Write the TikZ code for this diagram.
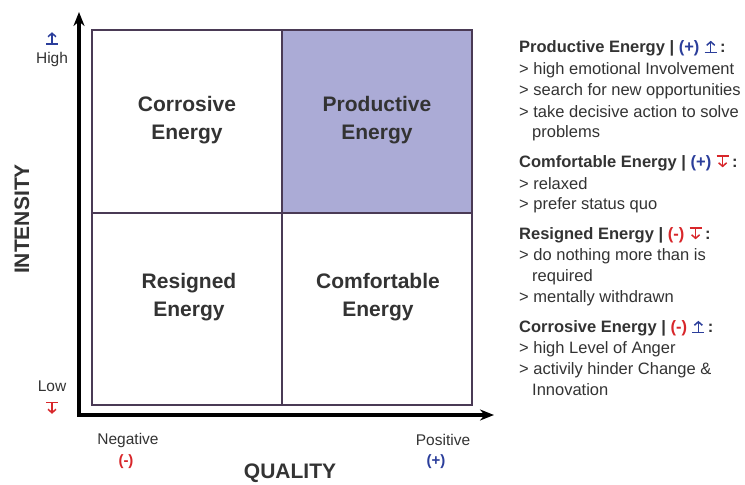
\documentclass[tikz,border=0pt]{standalone}
\usepackage{fontspec}
\setmainfont{Liberation Sans}
\usetikzlibrary{arrows.meta}
\definecolor{gridc}{HTML}{4A3A55}
\definecolor{fillc}{HTML}{ABABD6}
\definecolor{txtc}{HTML}{333333}
\definecolor{plusc}{HTML}{2B3E9B}
\definecolor{minusc}{HTML}{D8262A}
\newcommand{\upsym}{\tikz[baseline=0pt,x=1pt,y=1pt]{\draw[plusc,line width=1.5pt] (-6,0)--(6,0); \draw[plusc,line width=1.5pt,-{Straight Barb[length=3.5pt,width=8pt]}] (0,0)--(0,11.5);}}
\newcommand{\dnsym}{\tikz[baseline=0pt,x=1pt,y=1pt]{\draw[minusc,line width=1.5pt] (-6,11.5)--(6,11.5); \draw[minusc,line width=1.5pt,-{Straight Barb[length=3.5pt,width=8pt]}] (0,11.5)--(0,0);}}
\begin{document}
\begin{tikzpicture}[x=1pt,y=-1pt,
  quad/.style={font=\fontsize{21}{28}\selectfont\bfseries, text=txtc, align=center},
  side/.style={anchor=west, font=\fontsize{16.5}{18}\selectfont, text=txtc, inner sep=0pt},
  head/.style={side, font=\fontsize{16.5}{18}\selectfont\bfseries},
  axlab/.style={font=\fontsize{15.5}{18}\selectfont, text=txtc},
  big/.style={font=\fontsize{21}{24}\selectfont\bfseries, text=txtc},
  axis/.style={line width=3.5pt, -{Stealth[length=14pt,width=11pt]}}]
\useasboundingbox[fill=white] (0,0) rectangle (745,485);
% grid
\fill[fillc] (282,30) rectangle (472,213);
\draw[gridc, line width=1.6pt] (92,30) rectangle (472,405);
\draw[gridc, line width=1.6pt] (282,30) -- (282,405);
\draw[gridc, line width=1.6pt] (92,213) -- (472,213);
% axes
\coordinate (ybase) at (79,416.75);
\coordinate (xbase) at (77.25,415);
\coordinate (ytip) at (79,12);
\coordinate (xtip) at (494,415);
\draw[axis] (ybase) -- (ytip);
\draw[axis] (xbase) -- (xtip);
% quadrant labels
\node[quad] (cor) at (187,120) {Corrosive\\Energy};
\node[quad] (pro) at (377,120) {Productive\\Energy};
\node[quad] (res) at (189,297) {Resigned\\Energy};
\node[quad] (com) at (378,297) {Comfortable\\Energy};
% axis labels
\node[big, rotate=90] (int) at (22,219) {INTENSITY};
\node[big] (qual) at (290,473) {QUALITY};
\node[axlab] (hi) at (52,59) {High};
\node[inner sep=0pt] (hisym) at (52,38) {\upsym};
\node[axlab] (lo) at (52,386) {Low};
\node[inner sep=0pt] (losym) at (52,408) {\dnsym};
\node[axlab] (neg) at (128,440) {Negative};
\node[font=\fontsize{15}{18}\selectfont\bfseries, text=minusc] (negs) at (126,462) {(-)};
\node[axlab] (pos) at (443,440) {Positive};
\node[font=\fontsize{15}{18}\selectfont\bfseries, text=plusc] (poss) at (436,462) {(+)};
% side text
\node[head] (h1) at (519,48) {Productive Energy | {\color{plusc}(+)} \upsym\,:};
\node[side] (a1) at (519,70) {> high emotional Involvement};
\node[side] (a2) at (519,91) {> search for new opportunities};
\node[side] (a3) at (519,112) {> take decisive action to solve};
\node[side] (a4) at (532,133) {problems};
\node[head] (h2) at (519,163) {Comfortable Energy | {\color{plusc}(+)} \dnsym\,:};
\node[side] (b1) at (519,184) {> relaxed};
\node[side] (b2) at (519,205) {> prefer status quo};
\node[head] (h3) at (519,235) {Resigned Energy | {\color{minusc}(-)} \dnsym\,:};
\node[side] (c1) at (519,256) {> do nothing more than is};
\node[side] (c2) at (532,277) {required};
\node[side] (c3) at (519,298) {> mentally withdrawn};
\node[head] (h4) at (519,328) {Corrosive Energy | {\color{minusc}(-)} \upsym\,:};
\node[side] (d1) at (519,349) {> high Level of Anger};
\node[side] (d2) at (519,370) {> activily hinder Change \&};
\node[side] (d3) at (532,390) {Innovation};
\end{tikzpicture}
\end{document}
